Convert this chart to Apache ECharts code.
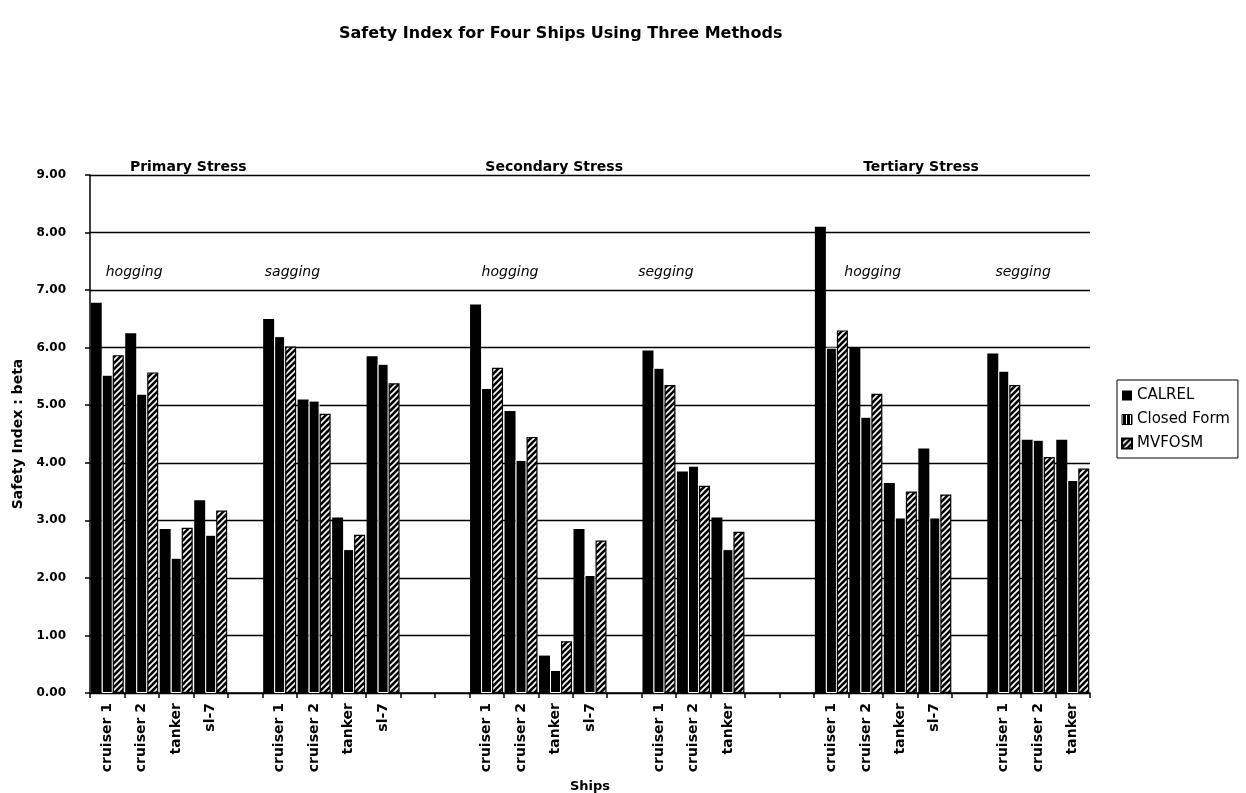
<!DOCTYPE html>
<html>
<head>
<meta charset="utf-8">
<script src="https://cdn.jsdelivr.net/npm/echarts@6/dist/echarts.min.js"></script>
<style>
html,body{margin:0;padding:0;background:#fff;}
#main{width:1246px;height:793px;}
</style>
</head>
<body>
<div id="main"></div>
<script>
// ---- data ----
const categories = ['cruiser 1','cruiser 2','tanker','sl-7','',
  'cruiser 1','cruiser 2','tanker','sl-7','','',
  'cruiser 1','cruiser 2','tanker','sl-7','',
  'cruiser 1','cruiser 2','tanker','','',
  'cruiser 1','cruiser 2','tanker','sl-7','',
  'cruiser 1','cruiser 2','tanker'];
const calrel = [6.78,6.25,2.85,3.35,null, 6.50,5.10,3.05,5.85,null,null, 6.75,4.90,0.65,2.85,null, 5.95,3.85,3.05,null,null, 8.10,6.00,3.65,4.25,null, 5.90,4.40,4.40];
const closedForm = [5.53,5.20,2.35,2.75,null, 6.20,5.08,2.50,5.72,null,null, 5.30,4.05,0.40,2.05,null, 5.65,3.95,2.50,null,null, 6.00,4.80,3.05,3.05,null, 5.60,4.40,3.70];
const mvfosm = [5.87,5.57,2.87,3.17,null, 6.02,4.85,2.75,5.38,null,null, 5.65,4.45,0.90,2.65,null, 5.35,3.60,2.80,null,null, 6.30,5.20,3.50,3.45,null, 5.35,4.10,3.90];
const seriesNames = ['CALREL','Closed Form','MVFOSM'];
// annotation positions in data space: [text, category position, value]
const stressLabels = [['Primary Stress',2.35,9.0],['Secondary Stress',12.96,9.0],['Tertiary Stress',23.6,9.0]];
const caseLabels = [['hogging',0.78,7.3],['sagging',5.37,7.3],['hogging',11.68,7.3],['segging',16.2,7.3],['hogging',22.2,7.3],['segging',26.56,7.3]];

const FONT = '"DejaVu Sans", Arial, sans-serif';

function hatchPattern(){
  const c = document.createElement('canvas');
  c.width = 6; c.height = 6;
  const g = c.getContext('2d');
  g.fillStyle = '#000'; g.fillRect(0,0,6,6);
  g.strokeStyle = '#fff'; g.lineWidth = 1.6;
  g.beginPath();
  g.moveTo(-1,7); g.lineTo(7,-1);
  g.moveTo(-1,1); g.lineTo(1,-1);
  g.moveTo(5,7); g.lineTo(7,5);
  g.stroke();
  return c;
}
function stripePattern(){
  const c = document.createElement('canvas');
  c.width = 4; c.height = 4;
  const g = c.getContext('2d');
  g.fillStyle = '#000'; g.fillRect(0,0,4,4);
  g.fillStyle = '#fff'; g.fillRect(0,0,1,4);
  return c;
}

const chart = echarts.init(document.getElementById('main'), null, {renderer:'canvas'});

const option = {
  backgroundColor: '#fff',
  animation: false,
  title: {
    text: 'Safety Index for Four Ships Using Three Methods',
    left: 334, top: 21,
    textStyle: {fontFamily: FONT, fontWeight: 'bold', fontSize: 16, color: '#000'}
  },
  legend: {
    data: [
      {name: seriesNames[0]},
      {name: seriesNames[1], itemStyle: {color: {image: stripePattern(), repeat: 'repeat'}, borderColor: '#000', borderWidth: 1}},
      {name: seriesNames[2]}
    ],
    orient: 'vertical',
    left: 1117, top: 380,
    itemWidth: 10, itemHeight: 10, itemGap: 9,
    padding: [8, 8, 7, 4],
    borderColor: '#000', borderWidth: 1,
    textStyle: {fontFamily: FONT, fontSize: 15, color: '#000'},
    icon: 'rect'
  },
  grid: {left: 90, right: 156, top: 175, bottom: 100, containLabel: false, outerBoundsMode: 'none'},
  xAxis: {
    type: 'category',
    data: categories,
    name: 'Ships',
    nameLocation: 'middle',
    nameGap: 83,
    nameTextStyle: {fontFamily: FONT, fontWeight: 'bold', fontSize: 13, color: '#000'},
    axisLine: {lineStyle: {color: '#000', width: 1.5}},
    axisTick: {show: true, interval: 0, length: 5, lineStyle: {color: '#000', width: 1.5}},
    axisLabel: {interval: 0, rotate: 90, margin: 10, fontFamily: FONT, fontWeight: 'bold', fontSize: 14, color: '#000'},
    splitLine: {show: false}
  },
  yAxis: {
    type: 'value',
    min: 0, max: 9, interval: 1,
    name: 'Safety Index : beta',
    nameLocation: 'middle',
    nameGap: 62,
    nameRotate: 90,
    nameTextStyle: {fontFamily: FONT, fontWeight: 'bold', fontSize: 14, color: '#000'},
    axisLine: {show: true, lineStyle: {color: '#000', width: 1.5}},
    axisTick: {show: true, length: 5, lineStyle: {color: '#000', width: 1.5}},
    axisLabel: {margin: 24, fontFamily: FONT, fontWeight: 'bold', fontSize: 12, color: '#000',
      formatter: v => Number(v).toFixed(2)},
    splitLine: {show: true, lineStyle: {color: '#000', width: 1.3}}
  },
  series: [
    {name: seriesNames[0], type: 'bar', data: calrel, barWidth: 11, barGap: '0%',
      itemStyle: {color: '#000'}},
    {name: seriesNames[1], type: 'bar', data: closedForm, barWidth: 11, barGap: '0%',
      itemStyle: {color: '#000', borderColor: '#fff', borderWidth: 1}},
    {name: seriesNames[2], type: 'bar', data: mvfosm, barWidth: 11, barGap: '0%',
      itemStyle: {color: {image: hatchPattern(), repeat: 'repeat'}, borderColor: '#000', borderWidth: 1.2}}
  ]
};
chart.setOption(option);

function catPx(x){
  const i = Math.floor(x), f = x - i;
  const a = chart.convertToPixel({xAxisIndex: 0}, i);
  const b = chart.convertToPixel({xAxisIndex: 0}, i + 1);
  return a + (b - a) * f;
}
function valPx(v){ return chart.convertToPixel({yAxisIndex: 0}, v); }

const graphics = [];
stressLabels.forEach(([t, x, y]) => {
  graphics.push({type: 'text', x: catPx(x), y: valPx(y) - 1, z: 10,
    style: {text: t, align: 'center', verticalAlign: 'bottom', fill: '#000',
      font: 'bold 14px ' + FONT}});
});
caseLabels.forEach(([t, x, y]) => {
  graphics.push({type: 'text', x: catPx(x), y: valPx(y), z: 10,
    style: {text: t, align: 'center', verticalAlign: 'middle', fill: '#000',
      font: 'italic 14px ' + FONT}});
});
chart.setOption({graphic: graphics});
</script>
</body>
</html>
